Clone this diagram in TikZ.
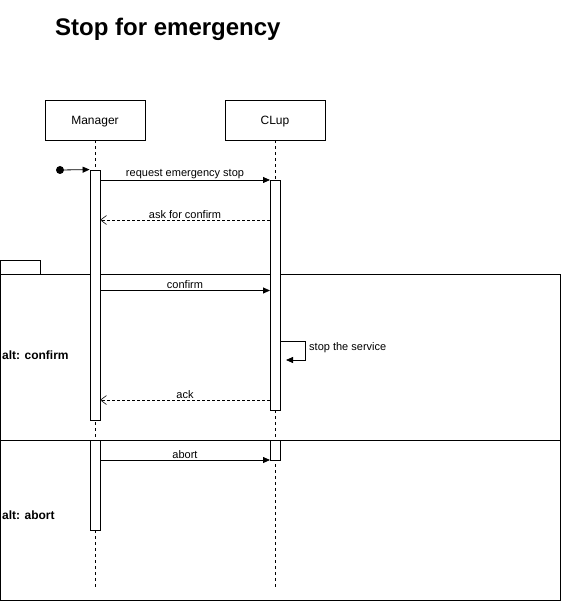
\documentclass[tikz,border=0pt]{standalone}
\usepackage{fontspec}
\setmainfont{Liberation Sans}
\usetikzlibrary{arrows.meta}
\begin{document}
\begin{tikzpicture}[x=1pt,y=-1pt,
  every node/.style={font=\fontsize{11}{13}\selectfont},
  actor/.style={draw,line width=0.8pt,minimum width=100pt,minimum height=40pt,inner sep=0pt,text height=9pt,text depth=-2pt,font=\fontsize{12}{14}\selectfont},
  act/.style={draw,line width=0.8pt,fill=white},
  life/.style={line width=0.7pt,dash pattern=on 3pt off 3pt},
  msg/.style={line width=0.8pt,-{Triangle[length=7pt,width=6pt]}},
  ret/.style={line width=0.7pt,dash pattern=on 3pt off 2pt,-{Straight Barb[length=6pt,width=9pt,line width=0.6pt]}},
  lbl/.style={inner sep=1pt,anchor=south},
  frame/.style={draw,line width=0.9pt},
  altlbl/.style={anchor=west,font=\fontsize{12}{14}\selectfont\bfseries,inner sep=0pt}
]
\useasboundingbox (0,0) rectangle (561,601);
% title
\node[anchor=west,font=\fontsize{24}{28}\selectfont\bfseries,inner sep=0pt] (title) at (55,29) {Stop for emergency};
% frame
\draw[frame] (0.5,274) rectangle (560,600);
\draw[frame] (0.5,260) rectangle (40,274);
\draw[frame] (0.5,440) -- (560,440);
\node[altlbl] (altc) at (2,355) {alt: confirm};
\node[altlbl] (alta) at (2,515) {alt: abort};
% actors
\node[actor] (man) at (95,120) {Manager};
\node[actor] (clup) at (275,120) {CLup};
\coordinate (manend) at (95,590);
\coordinate (clupend) at (275,590);
\draw[life] (man.south) -- (manend);
\draw[life] (clup.south) -- (clupend);
% activations
\node[act,minimum width=10pt,minimum height=250pt,inner sep=0pt] (ma1) at (95,295) {};
\node[act,minimum width=10pt,minimum height=90pt,inner sep=0pt] (ma2) at (95,485) {};
\node[act,minimum width=10pt,minimum height=230pt,inner sep=0pt] (ca1) at (275,295) {};
\node[act,minimum width=10pt,minimum height=20pt,inner sep=0pt] (ca2) at (275,450) {};
% start
\node[circle,fill=black,inner sep=0pt,minimum size=8pt] (start) at (60,170) {};
\draw[msg] (start) -- (ma1.north west);
% messages
\coordinate (m1s) at (100,180); \coordinate (m1e) at (270,180);
\draw[msg] (m1s) -- node[lbl,above=0pt] {request emergency stop} (m1e);
\coordinate (m2s) at (270,220); \coordinate (m2e) at (100,220);
\draw[ret] (m2s) -- node[lbl,above=0pt] {ask for confirm} (m2e);
\coordinate (m3s) at (100,290.5); \coordinate (m3e) at (270,290.5);
\draw[msg] (m3s) -- node[lbl,above=0pt] {confirm} (m3e);
\coordinate (s1) at (280,341); \coordinate (s2) at (286,360);
\draw[msg] (s1) -- (305,341) -- (305,360) -- (s2);
\node[anchor=west,inner sep=0pt] (stoplbl) at (309,348) {stop the service};
\coordinate (m4s) at (270,400); \coordinate (m4e) at (100,400);
\draw[ret] (m4s) -- node[lbl,above=0pt] {ack} (m4e);
\coordinate (m5s) at (100,460); \coordinate (m5e) at (270,460);
\draw[msg] (m5s) -- node[lbl,above=0pt] {abort} (m5e);
\end{tikzpicture}
\end{document}
